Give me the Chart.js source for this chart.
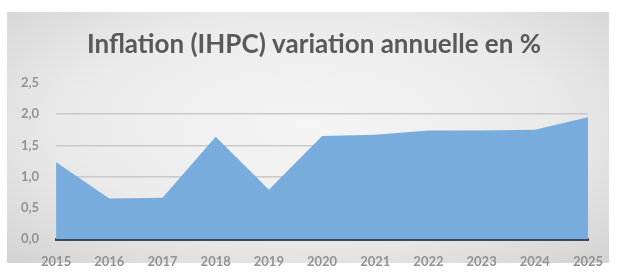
<!DOCTYPE html>
<html>
<head>
<meta charset="utf-8">
<script src="https://cdn.jsdelivr.net/npm/chart.js@4/dist/chart.umd.min.js"></script>
<style>
  html, body { margin: 0; padding: 0; background: #ffffff; }
  #wrap { position: relative; width: 619px; height: 273px; }
  #panel {
    position: absolute; left: 7px; top: 12px; width: 602px; height: 251px;
    background: radial-gradient(ellipse at 50% 45%, #f5f5f5 0%, #ebebeb 55%, #d3d3d3 100%);
  }
  canvas { position: absolute; left: 0; top: 0; }
</style>
</head>
<body>
<div id="wrap">
  <div id="panel"></div>
  <canvas id="myChart" width="619" height="273"></canvas>
</div>
<script>
const years = ['2015', '2016', '2017', '2018', '2019', '2020', '2021', '2022', '2023', '2024', '2025'];
const inflation = [1.23, 0.65, 0.66, 1.64, 0.79, 1.65, 1.67, 1.74, 1.74, 1.75, 1.95];
const yTicks = [0, 0.5, 1, 1.5, 2, 2.5];
const chartTitle = 'Inflation (IHPC) variation annuelle en %';

// title is a bit right of centre in the original, so draw it by hand
const titlePlugin = {
  id: 'titleText',
  afterDraw(chart) {
    const c = chart.ctx;
    c.save();
    c.font = 'bold 26px Lato';
    c.fillStyle = '#595959';
    c.textAlign = 'center';
    c.textBaseline = 'middle';
    c.fillText(chartTitle, 314, 45);
    c.restore();
  }
};

const ctx = document.getElementById('myChart').getContext('2d');
new Chart(ctx, {
  type: 'line',
  data: {
    labels: years,
    datasets: [{
      label: 'IHPC',
      data: inflation,
      fill: 'origin',
      backgroundColor: '#78acdc',
      borderWidth: 0,
      pointRadius: 0,
      tension: 0,
    }]
  },
  options: {
    responsive: false,
    animation: false,
    layout: { padding: { left: 4, right: 31, top: 83, bottom: 0 } },
    plugins: {
      legend: { display: false },
      tooltip: { enabled: false },
      title: { display: false },
    },
    scales: {
      x: {
        offset: false,
        grid: { display: false, drawTicks: false },
        border: { display: true, color: '#3d4b5b', width: 3 },
        ticks: {
          color: '#929292',
          font: { family: 'Lato', size: 13, weight: 'bold' },
          padding: 15,
          maxRotation: 0,
        },
        afterFit: (axis) => { axis.height = 34; },
      },
      y: {
        min: 0,
        max: 2.5,
        afterBuildTicks: (axis) => { axis.ticks = yTicks.map(v => ({ value: v })); },
        grid: {
          color: (c) => (c.tick && c.tick.value === 2.5 ? 'rgba(0,0,0,0)' : '#c9c9c9'),
          lineWidth: 1.5,
          drawTicks: false,
        },
        border: { display: false },
        ticks: {
          color: '#929292',
          font: { family: 'Lato', size: 13, weight: 'bold' },
          padding: 17,
          callback: (v) => Number(v).toFixed(1).replace('.', ','),
        },
      },
    },
  },
  plugins: [titlePlugin],
});
</script>
</body>
</html>
